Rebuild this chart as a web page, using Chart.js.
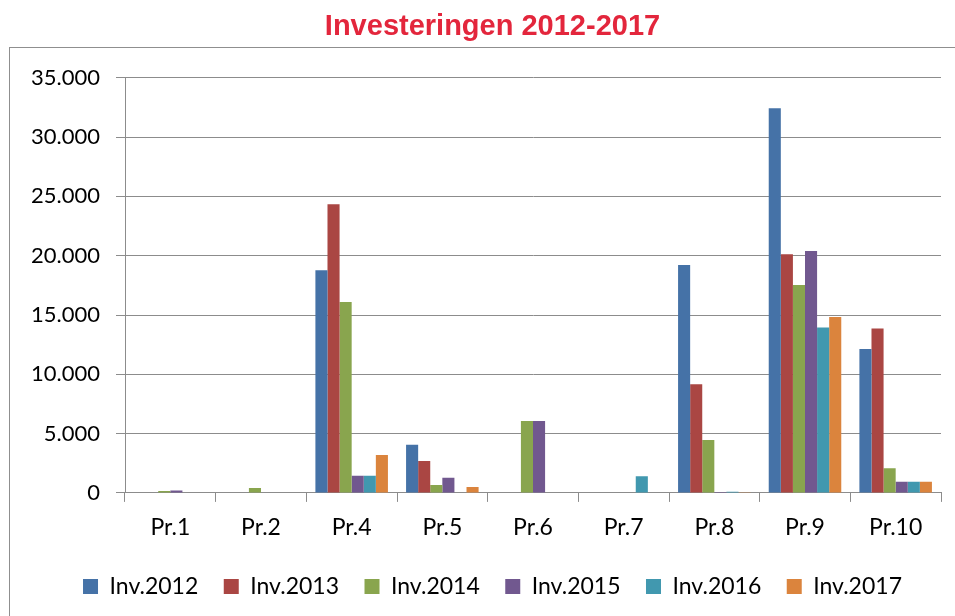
<!DOCTYPE html>
<html>
<head>
<meta charset="utf-8">
<script src="https://cdn.jsdelivr.net/npm/chart.js@4"></script>
<style>
html,body{margin:0;padding:0;background:#fff;}
#wrap{width:955px;height:616px;position:relative;}
</style>
</head>
<body>
<div id="wrap"><canvas id="c" width="955" height="616"></canvas></div>
<script>
const categories = ['Pr.1','Pr.2','Pr.4','Pr.5','Pr.6','Pr.7','Pr.8','Pr.9','Pr.10'];
const seriesNames = ['Inv.2012','Inv.2013','Inv.2014','Inv.2015','Inv.2016','Inv.2017'];
const inv2012 = [0, 0, 18780, 4050, 0, 0, 19220, 32440, 12140];
const inv2013 = [30, 0, 24340, 2700, 0, 0, 9160, 20130, 13860];
const inv2014 = [150, 420, 16100, 670, 6070, 0, 4470, 17540, 2080];
const inv2015 = [200, 0, 1450, 1270, 6070, 0, 80, 20400, 950];
const inv2016 = [0, 0, 1450, 0, 0, 1400, 100, 13940, 950];
const inv2017 = [0, 0, 3200, 500, 0, 0, 60, 14840, 950];
const colors = ['#4572A7','#AA4643','#89A54E','#71588F','#4198AF','#DB843D'];
const titleText = 'Investeringen 2012-2017';

const allSeries = [inv2012, inv2013, inv2014, inv2015, inv2016, inv2017];
const fontFam = 'Lato, "Open Sans", sans-serif';

const frame = {
  id: 'frame',
  beforeDraw(chart) {
    const ctx = chart.ctx;
    ctx.save();
    ctx.fillStyle = '#fff';
    ctx.fillRect(0, 0, chart.width, chart.height);
    ctx.strokeStyle = '#8f8f8f';
    ctx.lineWidth = 1;
    ctx.strokeRect(9.5, 47.5, 2000, 2000);
    ctx.restore();
  }
};

// the original chart box is wider than the picture; centre title and legend like it
const shiftBoxes = {
  id: 'shiftBoxes',
  afterLayout(chart) {
    const dx = 17;
    [chart.legend, chart.titleBlock].forEach(b => {
      if (b) { b.left += dx; b.right += dx; }
    });
  }
};

new Chart(document.getElementById('c'), {
  type: 'bar',
  data: {
    labels: categories,
    datasets: allSeries.map((d, i) => ({
      label: seriesNames[i],
      data: d,
      backgroundColor: colors[i],
      borderWidth: 0,
      barPercentage: 1,
      categoryPercentage: 0.8
    }))
  },
  plugins: [frame, shiftBoxes],
  options: {
    responsive: false,
    animation: false,
    devicePixelRatio: 1,
    layout: { padding: { left: 10, right: 14, top: 10, bottom: 8 } },
    plugins: {
      title: {
        display: true,
        text: titleText,
        color: '#E3263C',
        font: { family: '"Liberation Sans", Arial, sans-serif', size: 29, weight: 'bold' },
        padding: { top: 0, bottom: 33 }
      },
      legend: {
        position: 'bottom',
        labels: {
          boxWidth: 15,
          boxHeight: 15,
          padding: 25.5,
          color: '#000',
          font: { family: fontFam, size: 23 }
        }
      },
      tooltip: { enabled: false }
    },
    scales: {
      x: {
        afterFit(scale) { scale.height = scale.height - 4; },
        grid: { display: true, drawOnChartArea: false, drawTicks: true, tickLength: 9, color: '#8c8c8c', offset: true },
        border: { display: true, color: '#8c8c8c', width: 1 },
        ticks: { color: '#000', font: { family: fontFam, size: 23 }, padding: 12 }
      },
      y: {
        min: 0,
        max: 35000,
        afterFit(scale) { scale.width = 115; },
        grid: { color: '#8c8c8c', tickLength: 9, drawTicks: true },
        border: { display: true, color: '#8c8c8c', width: 1 },
        ticks: {
          stepSize: 5000,
          color: '#000',
          padding: 16,
          font: { family: fontFam, size: 22 },
          callback: v => String(v).replace(/\B(?=(\d{3})+(?!\d))/g, '.')
        }
      }
    }
  }
});
</script>
</body>
</html>
